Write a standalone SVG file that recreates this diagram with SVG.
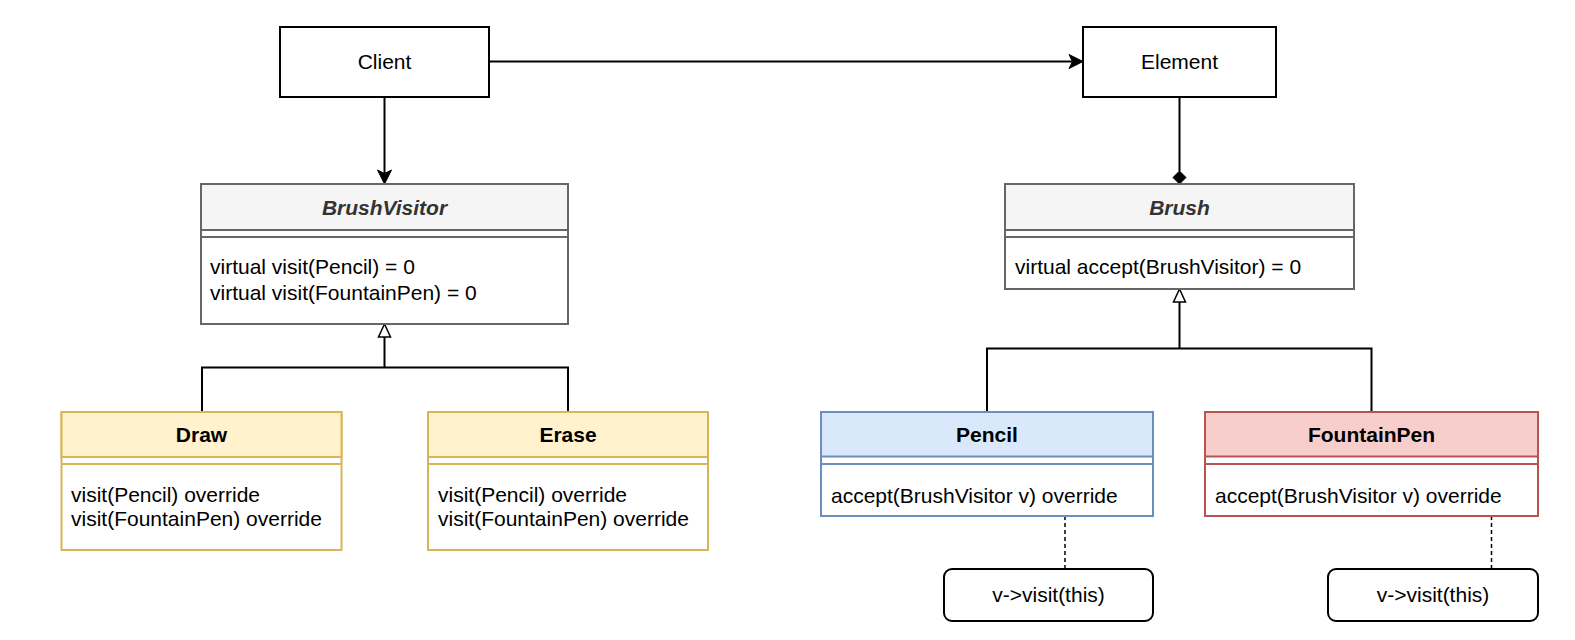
<svg xmlns="http://www.w3.org/2000/svg" width="1575" height="640" viewBox="0 0 1575 640">
<style>
  text { font-family: "Liberation Sans", Arial, sans-serif; font-size: 21px; fill: #000; }
  .title { font-weight: bold; text-anchor: middle; }
  .abs { font-weight: bold; font-style: italic; fill: #333333; text-anchor: middle; }
  .mid { text-anchor: middle; }
  .plain { fill: #ffffff; stroke: #000000; stroke-width: 2; }
  .grayH { fill: #f5f5f5; stroke: #666666; stroke-width: 2; }
  .grayB { fill: #ffffff; stroke: #666666; stroke-width: 2; }
  .yelH { fill: #fff2cc; stroke: #d6b656; stroke-width: 2; }
  .yelB { fill: #ffffff; stroke: #d6b656; stroke-width: 2; }
  .bluH { fill: #dae8fc; stroke: #6c8ebf; stroke-width: 2; }
  .bluB { fill: #ffffff; stroke: #6c8ebf; stroke-width: 2; }
  .redH { fill: #f8cecc; stroke: #b85450; stroke-width: 2; }
  .redB { fill: #ffffff; stroke: #b85450; stroke-width: 2; }
  .line { fill: none; stroke: #000000; stroke-width: 2; }
  .dash { fill: none; stroke: #000000; stroke-width: 1.5; stroke-dasharray: 4 3; }
  .gen { fill: #ffffff; stroke: #000000; stroke-width: 1.5; }
  .solid { fill: #000000; stroke: #000000; stroke-width: 1; }
</style>

<g id="connectors">
  <!-- Client -> Element -->
  <line class="line" x1="489" y1="61.5" x2="1074" y2="61.5"/>
  <path class="solid" d="M1083,61.5 L1069,54.5 L1072.5,61.5 L1069,68.5 Z"/>
  <!-- Client -> BrushVisitor -->
  <line class="line" x1="384.5" y1="97" x2="384.5" y2="175"/>
  <path class="solid" d="M384.5,184 L377.5,170 L384.5,173.5 L391.5,170 Z"/>
  <!-- Element composition Brush -->
  <line class="line" x1="1179.5" y1="97" x2="1179.5" y2="171"/>
  <path class="solid" d="M1179.5,171 L1186,177.5 L1179.5,184 L1173,177.5 Z"/>
  <!-- Generalization Draw/Erase -> BrushVisitor -->
  <path class="line" d="M202,412 L202,367.5 L568,367.5 L568,412"/>
  <line class="line" x1="384.5" y1="367.5" x2="384.5" y2="337"/>
  <path class="gen" d="M384.5,324 L390.5,337 L378.5,337 Z"/>
  <!-- Generalization Pencil/FountainPen -> Brush -->
  <path class="line" d="M987,412 L987,348.5 L1371.5,348.5 L1371.5,412"/>
  <line class="line" x1="1179.5" y1="348.5" x2="1179.5" y2="302"/>
  <path class="gen" d="M1179.5,289 L1185.5,302 L1173.5,302 Z"/>
  <!-- Note links -->
  <line class="dash" x1="1065" y1="516" x2="1065" y2="569"/>
  <line class="dash" x1="1491.5" y1="516" x2="1491.5" y2="569"/>
</g>

<g id="client">
  <rect class="plain" x="280" y="27" width="209" height="70"/>
  <text class="mid" x="384.5" y="68.5">Client</text>
</g>

<g id="element">
  <rect class="plain" x="1083" y="27" width="193" height="70"/>
  <text class="mid" x="1179.5" y="68.5">Element</text>
</g>

<g id="brushvisitor">
  <rect class="grayB" x="201" y="184" width="367" height="140"/>
  <rect class="grayH" x="201" y="184" width="367" height="46"/>
  <line x1="201" y1="237" x2="568" y2="237" stroke="#666666" stroke-width="2"/>
  <text class="abs" x="384.5" y="214.5">BrushVisitor</text>
  <text x="210" y="274">virtual visit(Pencil) = 0</text>
  <text x="210" y="300">virtual visit(FountainPen) = 0</text>
</g>

<g id="brush">
  <rect class="grayB" x="1005" y="184" width="349" height="105"/>
  <rect class="grayH" x="1005" y="184" width="349" height="46"/>
  <line x1="1005" y1="237" x2="1354" y2="237" stroke="#666666" stroke-width="2"/>
  <text class="abs" x="1179.5" y="214.5">Brush</text>
  <text x="1015" y="274">virtual accept(BrushVisitor) = 0</text>
</g>

<g id="draw">
  <rect class="yelB" x="61.5" y="412" width="280" height="138"/>
  <rect class="yelH" x="61.5" y="412" width="280" height="45"/>
  <line x1="61.5" y1="464" x2="341.5" y2="464" stroke="#d6b656" stroke-width="2"/>
  <text class="title" x="201.5" y="441.5">Draw</text>
  <text x="71" y="502">visit(Pencil) override</text>
  <text x="71" y="526">visit(FountainPen) override</text>
</g>

<g id="erase">
  <rect class="yelB" x="428" y="412" width="280" height="138"/>
  <rect class="yelH" x="428" y="412" width="280" height="45"/>
  <line x1="428" y1="464" x2="708" y2="464" stroke="#d6b656" stroke-width="2"/>
  <text class="title" x="568" y="441.5">Erase</text>
  <text x="438" y="502">visit(Pencil) override</text>
  <text x="438" y="526">visit(FountainPen) override</text>
</g>

<g id="pencil">
  <rect class="bluB" x="821" y="412" width="332" height="104"/>
  <rect class="bluH" x="821" y="412" width="332" height="44.5"/>
  <line x1="821" y1="464" x2="1153" y2="464" stroke="#6c8ebf" stroke-width="2"/>
  <text class="title" x="987" y="441.5">Pencil</text>
  <text x="831" y="503">accept(BrushVisitor v) override</text>
</g>

<g id="fountainpen">
  <rect class="redB" x="1205" y="412" width="333" height="104"/>
  <rect class="redH" x="1205" y="412" width="333" height="44.5"/>
  <line x1="1205" y1="464" x2="1538" y2="464" stroke="#b85450" stroke-width="2"/>
  <text class="title" x="1371.5" y="441.5">FountainPen</text>
  <text x="1215" y="503">accept(BrushVisitor v) override</text>
</g>

<g id="note-pencil">
  <rect class="plain" x="944" y="569" width="209" height="52" rx="8" ry="8"/>
  <text class="mid" x="1048.5" y="602">v-&gt;visit(this)</text>
</g>

<g id="note-fountainpen">
  <rect class="plain" x="1328" y="569" width="210" height="52" rx="8" ry="8"/>
  <text class="mid" x="1433" y="602">v-&gt;visit(this)</text>
</g>
</svg>
